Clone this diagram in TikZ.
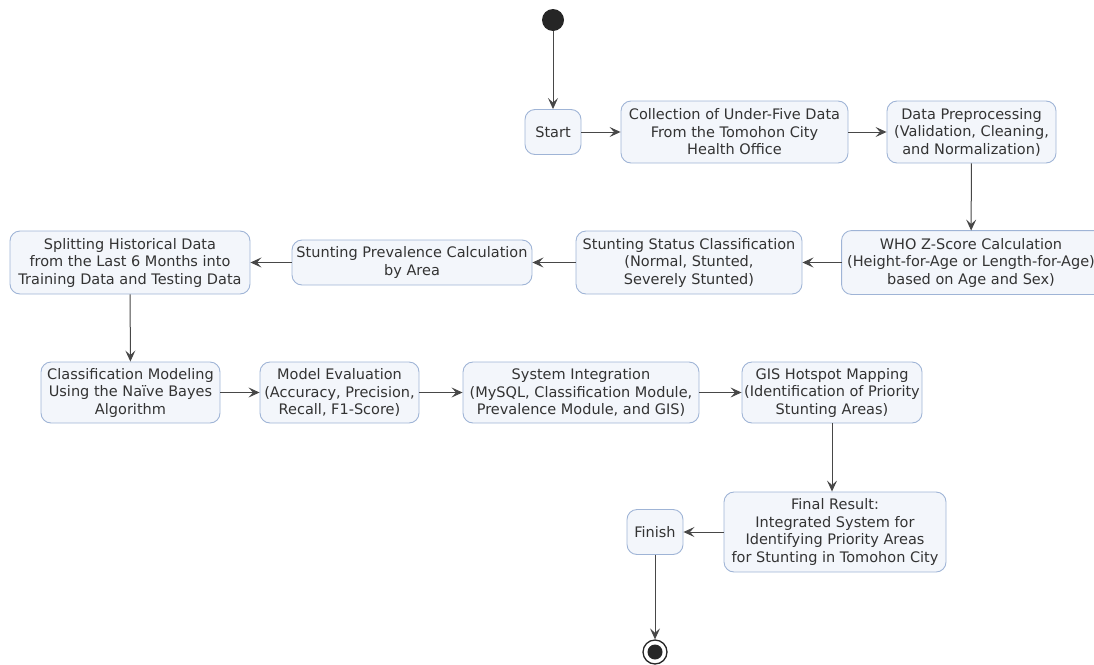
\documentclass[tikz,border=0pt]{standalone}
\usepackage{fontspec}
\setmainfont{DejaVu Sans}
\usetikzlibrary{arrows.meta,backgrounds}
\definecolor{bord}{HTML}{9FB4D6}
\definecolor{fillc}{HTML}{F3F6FB}
\definecolor{linec}{HTML}{474747}
\tikzset{
  act/.style={draw=bord, fill=fillc, line width=0.9pt, rounded corners=10pt, align=center,
    font=\fontsize{14.5}{17.5}\selectfont, text=black!80, inner sep=1pt},
  arr/.style={draw=linec, line width=1pt, -{Stealth[length=11pt,width=10pt,inset=4.5pt]}},
}
\begin{document}
\begin{tikzpicture}[x=1pt,y=-1pt]
\useasboundingbox (0,0) rectangle (1094,664);
\node[circle, fill=black!85, minimum size=22pt, inner sep=0pt] (init) at (553,20) {};
\node[act, minimum width=56pt, minimum height=45pt] (start) at (553,132) {Start};
\node[act, minimum width=227pt, minimum height=62pt] (coll) at (734.5,132) {Collection of Under-Five Data\\From the Tomohon City\\Health Office};
\node[act, minimum width=169pt, minimum height=62pt] (prep) at (971.5,132) {Data Preprocessing\\(Validation, Cleaning,\\and Normalization)};
\node[act, draw=none, fill=none, minimum width=258pt, minimum height=63pt] (who) at (971,262.5) {WHO Z-Score Calculation\\(Height-for-Age or Length-for-Age)\\based on Age and Sex)};
\begin{scope}[on background layer]
\draw[draw=bord, fill=fillc, line width=0.9pt, rounded corners=10pt] (who.north west) rectangle ([xshift=30pt]who.south east);
\end{scope}
\node[act, minimum width=226pt, minimum height=63pt] (status) at (689,262.5) {Stunting Status Classification\\(Normal, Stunted,\\Severely Stunted)};
\node[act, minimum width=240pt, minimum height=45pt] (prev) at (412,262.5) {Stunting Prevalence Calculation\\by Area};
\node[act, minimum width=240pt, minimum height=63pt] (split) at (130,262.5) {Splitting Historical Data\\from the Last 6 Months into\\Training Data and Testing Data};
\node[act, minimum width=179pt, minimum height=61pt] (cls) at (130.5,392.5) {Classification Modeling\\Using the Naïve Bayes\\Algorithm};
\node[act, minimum width=159pt, minimum height=61pt] (eval) at (339.5,392.5) {Model Evaluation\\(Accuracy, Precision,\\Recall, F1-Score)};
\node[act, minimum width=236pt, minimum height=61pt] (sys) at (581,392.5) {System Integration\\(MySQL, Classification Module,\\Prevalence Module, and GIS)};
\node[act, minimum width=180pt, minimum height=61pt] (gis) at (832,392.5) {GIS Hotspot Mapping\\(Identification of Priority\\Stunting Areas)};
\node[act, minimum width=222pt, minimum height=80pt] (final) at (835,532) {Final Result:\\Integrated System for\\Identifying Priority Areas\\for Stunting in Tomohon City};
\node[act, minimum width=56pt, minimum height=45pt] (finish) at (655,532) {Finish};
\node[circle, draw=black!85, line width=1.3pt, fill=white, minimum size=24pt, inner sep=0pt] (endo) at (655,652) {};
\node[circle, fill=black!85, minimum size=15pt, inner sep=0pt] (endi) at (655,652) {};
\draw[arr] (init) -- (start);
\draw[arr] (start) -- (coll);
\draw[arr] (coll) -- (prep);
\draw[arr] (prep) -- (who);
\draw[arr] (who) -- (status);
\draw[arr] (status) -- (prev);
\draw[arr] (prev) -- (split);
\draw[arr] (split) -- (cls);
\draw[arr] (cls) -- (eval);
\draw[arr] (eval) -- (sys);
\draw[arr] (sys) -- (gis);
\draw[arr] (gis.south) -- (gis.south |- final.north);
\draw[arr] (final) -- (finish);
\draw[arr] (finish) -- (endo);
\end{tikzpicture}
\end{document}
